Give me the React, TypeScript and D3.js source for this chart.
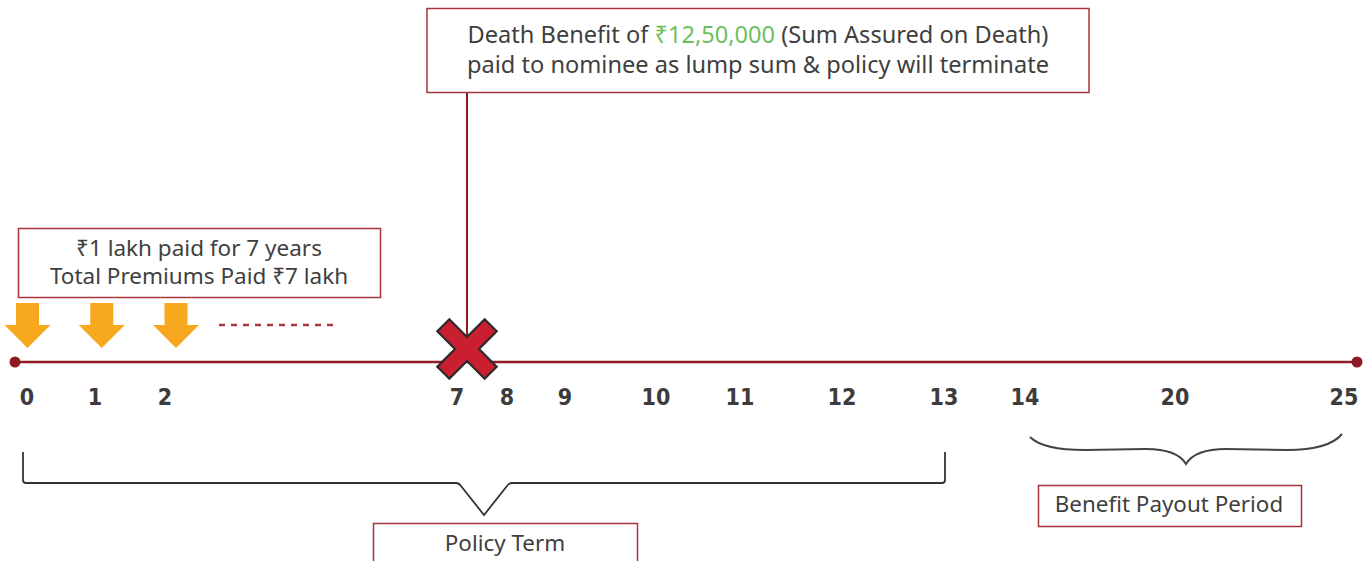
import React, { useEffect } from "react";
import * as d3 from "d3";

// timeline ticks (years)
const tickYears = [0, 1, 2, 7, 8, 9, 10, 11, 12, 13, 14, 20, 25];
// premiums paid at the start of these years
const premiumYears = [0, 1, 2];
const premiumAmount = "1 lakh";
const premiumTermYears = 7;
const totalPremium = "7 lakh";
// death event
const deathYear = 7;
const sumAssured = "12,50,000";
// periods under the timeline
const policyTerm = [0, 13];
const payoutPeriod = [14, 25];

const W = 1363;
const H = 561;
const TEXT = "#3f3f3f";
const RED = "#8e1b24";
const BOX = "#a8343d";
const FONT = "'Noto Sans', sans-serif";

const App = () => {
  useEffect(() => {
    document.body.style.margin = "0";
  }, []);

  // the picture's axis is not even, so the scale is piecewise
  const x = d3
    .scaleLinear()
    .domain(tickYears)
    .range([27, 95, 165, 457, 507, 565, 656, 740, 842, 944, 1025, 1175, 1344]);
  const arrowX = d3.scaleLinear().domain([0, 2]).range([27.5, 176]);

  const lineY = 362;
  const deathX = x(deathYear) + 10;

  // X marker polygon (plus rotated by 45deg)
  const t = 8.5;
  const L = 33.5;
  const plus: [number, number][] = [
    [t, t], [L, t], [L, -t], [t, -t], [t, -L], [-t, -L],
    [-t, -t], [-L, -t], [-L, t], [-t, t], [-t, L], [t, L],
  ];
  const rot = plus.map(([px, py]) => {
    const a = Math.PI / 4;
    return [deathX + px * Math.cos(a) - py * Math.sin(a), 349 + px * Math.sin(a) + py * Math.cos(a)];
  });
  const crossPath = "M" + rot.map((p) => p.join(",")).join("L") + "Z";

  const arrowPath = (cx: number) => {
    const top = 303, mid = 325, tip = 348, s = 11.5, h = 23;
    return `M${cx - s},${top}L${cx + s},${top}L${cx + s},${mid}L${cx + h},${mid}L${cx},${tip}L${cx - h},${mid}L${cx - s},${mid}Z`;
  };

  // policy term bracket
  const pL = x(policyTerm[0]) - 4;
  const pR = x(policyTerm[1]) + 1;
  const pM = 484;
  const bracket = d3.path();
  bracket.moveTo(pL, 452);
  bracket.lineTo(pL, 480);
  bracket.quadraticCurveTo(pL, 483, pL + 3, 483);
  bracket.lineTo(pM - 28, 483);
  bracket.quadraticCurveTo(pM - 25, 483, pM - 23, 486);
  bracket.lineTo(pM, 515);
  bracket.lineTo(pM + 23, 486);
  bracket.quadraticCurveTo(pM + 25, 483, pM + 28, 483);
  bracket.lineTo(pR - 3, 483);
  bracket.quadraticCurveTo(pR, 483, pR, 480);
  bracket.lineTo(pR, 452);

  // benefit payout curly brace
  const bL = x(payoutPeriod[0]) + 5;
  const bR = x(payoutPeriod[1]) - 2;
  const bM = (bL + bR) / 2;
  const brace = d3.path();
  brace.moveTo(bL, 437);
  brace.bezierCurveTo(bL + 10, 447, bL + 30, 450, bL + 55, 450);
  brace.lineTo(bM - 40, 449);
  brace.bezierCurveTo(bM - 18, 449, bM - 6, 454, bM, 464);
  brace.bezierCurveTo(bM + 6, 454, bM + 18, 449, bM + 40, 449);
  brace.lineTo(bR - 55, 450);
  brace.bezierCurveTo(bR - 30, 450, bR - 10, 446, bR, 434);

  return (
    <svg width={W} height={H} style={{ display: "block", background: "#fff" }}>
      {/* death benefit box */}
      <rect x={427} y={8.5} width={662} height={84} fill="#fff" stroke={BOX} strokeWidth={1.5} />
      <text textAnchor="middle" fontFamily={FONT} fontSize={23.6} fill={TEXT}>
        <tspan x={758} y={42.5}>
          Death Benefit of <tspan fill="#6cbf5f">₹{sumAssured}</tspan> (Sum Assured on Death)
        </tspan>
        <tspan x={758} y={72.5}>paid to nominee as lump sum &amp; policy will terminate</tspan>
      </text>
      <line x1={deathX} x2={deathX} y1={93} y2={lineY} stroke={RED} strokeWidth={2} />

      {/* premium box */}
      <rect x={18.5} y={228.5} width={362} height={69} fill="#fff" stroke={BOX} strokeWidth={1.5} />
      <text textAnchor="middle" fontFamily={FONT} fontSize={22.5} fill={TEXT}>
        <tspan x={199} y={256}>₹{premiumAmount} paid for {premiumTermYears} years</tspan>
        <tspan x={199} y={284}>Total Premiums Paid ₹{totalPremium}</tspan>
      </text>

      {premiumYears.map((yr) => (
        <path key={yr} d={arrowPath(arrowX(yr))} fill="#f8a81e" />
      ))}
      <line x1={219} x2={336} y1={325} y2={325} stroke={BOX} strokeWidth={2.5} strokeDasharray="6,6" />

      {/* timeline */}
      <line x1={x(0) - 12} x2={x(25) + 13} y1={lineY} y2={lineY} stroke={RED} strokeWidth={2.5} />
      <circle cx={x(0) - 12} cy={lineY} r={5.5} fill={RED} />
      <circle cx={x(25) + 13} cy={lineY} r={5.5} fill={RED} />

      <path d={crossPath} fill="#c91f31" stroke="#2b2b2b" strokeWidth={2.2} strokeLinejoin="miter" />

      {tickYears.map((yr) => (
        <text
          key={yr}
          x={x(yr)}
          y={405}
          textAnchor="middle"
          fontFamily="'DejaVu Sans Condensed', 'DejaVu Sans', sans-serif"
          fontWeight={700}
          fontSize={23}
          fill="#3c3c3c"
        >
          {yr}
        </text>
      ))}

      {/* policy term */}
      <path d={bracket.toString()} fill="none" stroke="#333" strokeWidth={1.8} />
      <rect x={373.5} y={523.5} width={264} height={50} fill="#fff" stroke={BOX} strokeWidth={1.5} />
      <text x={505} y={551} textAnchor="middle" fontFamily={FONT} fontSize={22.4} fill={TEXT}>
        Policy Term
      </text>

      {/* benefit payout */}
      <path d={brace.toString()} fill="none" stroke="#444" strokeWidth={2} />
      <rect x={1038.5} y={485.5} width={263} height={41} fill="#fff" stroke={BOX} strokeWidth={1.5} />
      <text x={1169} y={512} textAnchor="middle" fontFamily={FONT} fontSize={22.4} fill={TEXT}>
        Benefit Payout Period
      </text>
    </svg>
  );
};

export default App;
